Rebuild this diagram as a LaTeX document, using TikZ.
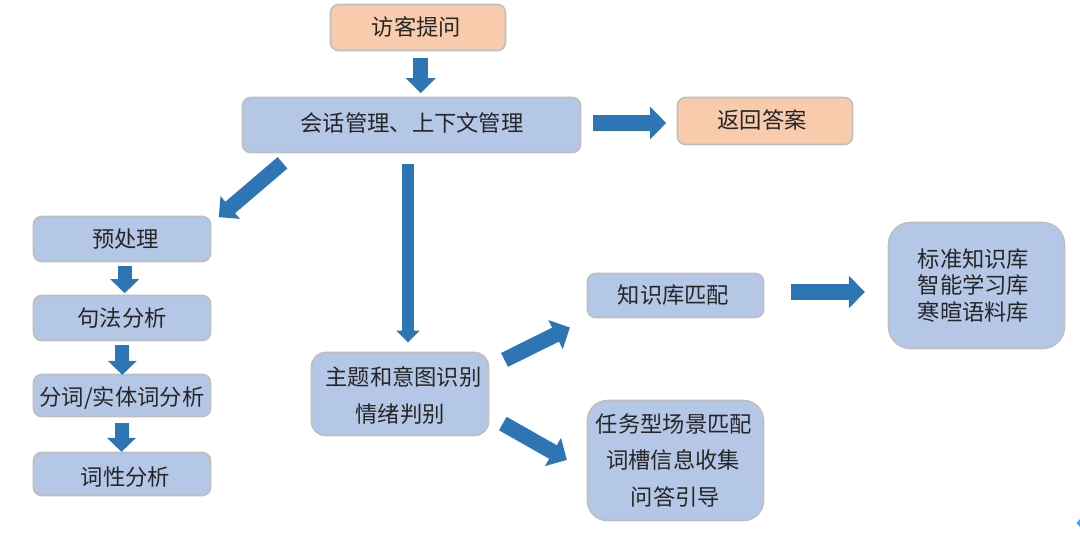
\documentclass[tikz,border=0pt]{standalone}
\usepackage{fontspec}
\setmainfont{Noto Sans CJK SC}
\usetikzlibrary{arrows.meta}
\definecolor{boxblue}{HTML}{B4C7E7}
\definecolor{boxorange}{HTML}{F8CBAD}
\definecolor{boxedge}{HTML}{BFBFBF}
\definecolor{arrowblue}{HTML}{2E75B6}
\definecolor{inkdark}{HTML}{262626}
\definecolor{edgeblue}{HTML}{4AA3F0}
% nudge text inside a fixed-size box: right by #1 (given doubled), down by #2
\newcommand{\nudgetext}[3]{\raisebox{-#2}[18pt][2pt]{\hspace*{#1}#3}}
\tikzset{
  box/.style={draw=boxedge,line width=1.6pt,fill=boxblue,rounded corners=8pt,text=inkdark,
    inner sep=0pt,align=center,font=\fontsize{22.3}{36.5}\selectfont},
  orangebox/.style={box,fill=boxorange},
  bigarrow/.style={draw=arrowblue,line width=15.5pt,-{Triangle[width=31.5pt,length=16pt]}},
  midarrow/.style={draw=arrowblue,line width=15pt,-{Triangle[width=29pt,length=15pt]}},
  shortarrow/.style={draw=arrowblue,line width=14pt,-{Triangle[width=28pt,length=14pt]}},
  thinarrow/.style={draw=arrowblue,line width=12pt,-{Triangle[width=23pt,length=12pt]}}
}
\begin{document}
\begin{tikzpicture}[x=1pt,y=-1pt]
\useasboundingbox (0,0) rectangle (1080,539);
\node[orangebox,minimum width=175pt,minimum height=46pt] (ask) at (418,27.5) {\nudgetext{-3pt}{0pt}{访客提问}};
\node[box,minimum width=338pt,minimum height=55pt] (session) at (411.5,125) {\nudgetext{1pt}{-2pt}{会话管理、上下文管理}};
\node[orangebox,minimum width=175pt,minimum height=47pt] (answer) at (765,121) {\nudgetext{-6pt}{-1pt}{返回答案}};
\node[box,minimum width=177pt,minimum height=45pt] (pre) at (122,239) {\nudgetext{7pt}{0pt}{预处理}};
\node[box,minimum width=177pt,minimum height=45pt] (syntax) at (122,318) {\nudgetext{0pt}{0pt}{句法分析}};
\node[box,minimum width=177pt,minimum height=42pt] (seg) at (122,395.5) {\nudgetext{0pt}{2pt}{分词/实体词分析}};
\node[box,minimum width=177pt,minimum height=43pt] (pos) at (122,474) {\nudgetext{7pt}{3pt}{词性分析}};
\node[box,rounded corners=14pt,minimum width=177pt,minimum height=83pt] (topic) at (400,394) {\rule{0pt}{22pt}\hspace*{7pt}主题和意图识别\\情绪判别};
\node[box,minimum width=176pt,minimum height=44pt] (kb) at (675.5,295.5) {\nudgetext{-4pt}{0pt}{知识库匹配}};
\node[box,rounded corners=20pt,minimum width=176pt,minimum height=120pt] (task) at (675.5,460.5) {\hspace*{-3pt}任务型场景匹配\\\hspace*{-5pt}词槽信息收集\\问答引导};
\node[box,rounded corners=22pt,font=\fontsize{22.3}{26.5}\selectfont,minimum width=176pt,minimum height=126pt] (lib) at (976.5,285.5) {\hspace*{-6pt}标准知识库\\\hspace*{-6pt}智能学习库\\\hspace*{-6pt}寒暄语料库};
\draw[midarrow] ([xshift=2.7pt,yshift=-6.2pt]ask.south) -- ([xshift=9.2pt,yshift=3.5pt]session.north);
\draw[bigarrow] ([xshift=11.5pt,yshift=2pt]session.east) -- ([xshift=-10.5pt,yshift=-2pt]answer.west);
\draw[midarrow] ([xshift=-129pt,yshift=-9.5pt]session.south) -- ([xshift=7.5pt,yshift=-1.5pt]pre.north east);
\draw[thinarrow] ([xshift=-3.5pt,yshift=-11pt]session.south) -- ([xshift=8pt,yshift=9.2pt]topic.north);
\draw[shortarrow] ([xshift=2.7pt,yshift=-3.5pt]pre.south) -- ([xshift=2.7pt,yshift=1.5pt]syntax.north);
\draw[shortarrow] ([xshift=0.3pt,yshift=-3.5pt]syntax.south) -- ([xshift=0.3pt,yshift=-1.2pt]seg.north);
\draw[shortarrow] ([xshift=-0.5pt,yshift=-5.2pt]seg.south) -- ([xshift=-0.5pt,yshift=-0.2pt]pos.north);
\draw[bigarrow] ([xshift=15.2pt,yshift=-8.2pt]topic.north east) -- ([xshift=-16.8pt,yshift=-9.2pt]kb.south west);
\draw[bigarrow] ([xshift=13.5pt,yshift=12.8pt]topic.south east) -- ([xshift=-19.8pt,yshift=-60.2pt]task.north west);
\draw[bigarrow] ([xshift=26.5pt,yshift=3.5pt]kb.east) -- ([xshift=-22.8pt,yshift=-6.5pt]lib.west);
\fill[edgeblue] (1080,519) -- (1076.5,523) -- (1080,527) -- cycle;
\end{tikzpicture}
\end{document}
